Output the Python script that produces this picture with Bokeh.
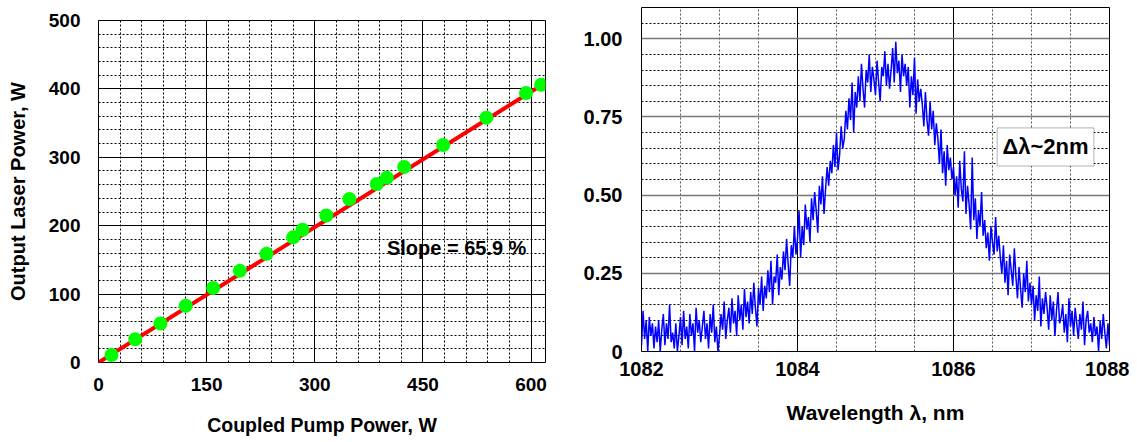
from bokeh.plotting import figure
from bokeh.layouts import row, column
from bokeh.models import Range1d, FixedTicker, Label, BoxAnnotation
from bokeh.embed import file_html
from bokeh.resources import INLINE
import numpy as np

# ---------------- data: left chart ----------------
pump_power = [18, 51, 86, 121, 159, 196, 233, 270, 283, 316, 348, 386, 400, 424, 478, 538, 593, 614]
laser_power = [11, 34, 57, 83, 109, 134, 159, 183, 194, 215, 239, 261, 270, 286, 318, 358, 394, 406]
fit_x = [0, 620]
fit_y = [0, 409]
left_xticks = [0, 150, 300, 450, 600]
left_yticks = [0, 100, 200, 300, 400, 500]
slope_text = "Slope = 65.9 %"

# ---------------- data: right chart ----------------
wl_start, wl_end = 1082.0, 1088.0
intensity = [
    0.02, 0.13, 0.04, 0.10, 0.00, 0.11, 0.05, 0.09, 0.01, 0.08,
    0.03, 0.10, 0.00, 0.07, 0.12, 0.02, 0.09, 0.04, 0.15, 0.03,
    0.06, 0.01, 0.09, 0.00, 0.05, 0.11, 0.02, 0.13, 0.04, 0.08,
    0.01, 0.12, 0.05, 0.09, 0.00, 0.14, 0.06, 0.10, 0.03, 0.08,
    0.13, 0.04, 0.09, 0.01, 0.12, 0.06, 0.15, 0.03, 0.08, 0.00,
    0.05, 0.12, 0.07, 0.16, 0.04, 0.10, 0.14, 0.06, 0.17, 0.09,
    0.13, 0.05, 0.18, 0.10, 0.15, 0.07, 0.20, 0.11, 0.16, 0.09,
    0.19, 0.12, 0.22, 0.14, 0.08, 0.20, 0.15, 0.24, 0.13, 0.21,
    0.17, 0.26, 0.19, 0.29, 0.15, 0.24, 0.22, 0.31, 0.18, 0.27,
    0.23, 0.32, 0.26, 0.36, 0.28, 0.21, 0.34, 0.30, 0.40, 0.31,
    0.36, 0.45, 0.30, 0.40, 0.34, 0.47, 0.39, 0.43, 0.35, 0.49,
    0.42, 0.51, 0.45, 0.38, 0.53, 0.47, 0.56, 0.44, 0.52, 0.59,
    0.53, 0.61, 0.57, 0.66, 0.59, 0.70, 0.58, 0.63, 0.72, 0.65,
    0.68, 0.77, 0.71, 0.81, 0.74, 0.86, 0.70, 0.83, 0.78, 0.88,
    0.80, 0.92, 0.84, 0.78, 0.90, 0.86, 0.95, 0.83, 0.91, 0.87,
    0.82, 0.93, 0.86, 0.80, 0.91, 0.88, 0.96, 0.85, 0.92, 0.84,
    0.90, 0.97, 0.86, 0.99, 0.89, 0.93, 0.83, 0.95, 0.88, 0.92,
    0.85, 0.91, 0.78, 0.88, 0.82, 0.94, 0.76, 0.87, 0.80, 0.84,
    0.79, 0.72, 0.83, 0.74, 0.69, 0.80, 0.71, 0.77, 0.66, 0.73,
    0.68, 0.60, 0.71, 0.57, 0.64, 0.53, 0.66, 0.58, 0.62, 0.55,
    0.59, 0.50, 0.56, 0.46, 0.61, 0.52, 0.48, 0.64, 0.44, 0.53,
    0.47, 0.39, 0.62, 0.42, 0.49, 0.36, 0.45, 0.40, 0.51, 0.37,
    0.42, 0.33, 0.38, 0.29, 0.40, 0.35, 0.31, 0.43, 0.32, 0.37,
    0.30, 0.25, 0.34, 0.22, 0.29, 0.18, 0.31, 0.26, 0.21, 0.33,
    0.24, 0.17, 0.27, 0.20, 0.14, 0.25, 0.19, 0.29, 0.16, 0.22,
    0.15, 0.21, 0.10, 0.18, 0.13, 0.24, 0.08, 0.17, 0.12, 0.19,
    0.14, 0.07, 0.18, 0.10, 0.16, 0.05, 0.13, 0.19, 0.09, 0.11,
    0.15, 0.06, 0.12, 0.03, 0.17, 0.08, 0.13, 0.05, 0.14, 0.09,
    0.04, 0.12, 0.07, 0.16, 0.02, 0.10, 0.13, 0.06, 0.09, 0.03,
    0.11, 0.05, 0.08, 0.00, 0.10, 0.04, 0.12, 0.06, 0.01, 0.09,
    0.02,
]
wavelength = np.linspace(wl_start, wl_end, len(intensity))
right_xticks = [1082, 1084, 1086, 1088]
right_yticks = [0, 0.25, 0.5, 0.75, 1.0]
right_ylabels = {0: "0", 0.25: "0.25", 0.5: "0.50", 0.75: "0.75", 1.0: "1.00"}
width_text = "Δλ~2nm"

FONT = "Liberation Sans"


def style_axes(p, tick_size, label_size):
    for ax in (p.xaxis[0], p.yaxis[0]):
        ax.axis_line_color = None
        ax.major_tick_line_color = None
        ax.minor_tick_line_color = None
        ax.major_label_text_font = FONT
        ax.major_label_text_font_style = "bold"
        ax.major_label_text_font_size = tick_size
        ax.major_label_text_color = "black"
        ax.axis_label_text_font = FONT
        ax.axis_label_text_font_style = "bold"
        ax.axis_label_text_font_size = label_size
        ax.axis_label_text_color = "black"
    p.outline_line_color = "black"
    p.outline_line_width = 1
    p.background_fill_color = "white"
    p.border_fill_color = "white"


# ---------------- left figure ----------------
p1 = figure(width=580, height=440, output_backend="svg", toolbar_location=None,
            x_range=Range1d(0, 620), y_range=Range1d(0, 500),
            min_border_left=98, min_border_right=35, min_border_top=20, min_border_bottom=78)
p1.xaxis.ticker = FixedTicker(ticks=left_xticks, minor_ticks=list(range(0, 621, 30)))
p1.yaxis.ticker = FixedTicker(ticks=left_yticks, minor_ticks=list(range(0, 501, 20)))
p1.xaxis.axis_label = "Coupled Pump Power, W"
p1.yaxis.axis_label = "Output Laser Power, W"
style_axes(p1, "19px", "19.5px")
p1.xaxis.major_label_standoff = 9
p1.xaxis.axis_label_standoff = 20
p1.yaxis.major_label_standoff = 12
p1.yaxis.axis_label_standoff = 17
p1.yaxis.axis_label_text_font_size = "20px"
for g in (p1.xgrid[0], p1.ygrid[0]):
    g.grid_line_color = "black"
    g.grid_line_width = 1
    g.minor_grid_line_color = "black"
    g.minor_grid_line_dash = "2 2"
    g.minor_grid_line_width = 1

p1.line(fit_x, fit_y, line_color="#FF0000", line_width=4)
p1.scatter(pump_power, laser_power, size=14, fill_color="#00FF00", line_color=None)
p1.add_layout(Label(x=400, y=167, text=slope_text, text_font=FONT, text_font_style="bold",
                    text_font_size="20px", text_baseline="middle", text_color="black"))

# ---------------- right figure ----------------
p2 = figure(width=549, height=440, output_backend="svg", toolbar_location=None,
            x_range=Range1d(wl_start, wl_end), y_range=Range1d(0, 1.1),
            min_border_left=56, min_border_right=20, min_border_top=7, min_border_bottom=89)
p2.xaxis.ticker = FixedTicker(ticks=right_xticks, minor_ticks=[1082 + 0.5 * i for i in range(13)])
p2.yaxis.ticker = FixedTicker(ticks=right_yticks, minor_ticks=[round(0.05 * i, 2) for i in range(23)])
p2.yaxis.major_label_overrides = right_ylabels
p2.xaxis.axis_label = "Wavelength λ, nm"
style_axes(p2, "20px", "21px")
p2.xaxis.major_label_standoff = 4
p2.xaxis.axis_label_standoff = 22
p2.yaxis.major_label_standoff = 13
p2.xgrid[0].grid_line_color = "black"
p2.xgrid[0].grid_line_width = 1
p2.xgrid[0].minor_grid_line_color = "#555555"
p2.xgrid[0].minor_grid_line_dash = "2 2"
p2.ygrid[0].grid_line_color = "#777777"
p2.ygrid[0].grid_line_width = 1.6
p2.ygrid[0].minor_grid_line_color = "black"
p2.ygrid[0].minor_grid_line_dash = "2 2"

p2.line(wavelength, intensity, line_color="#0000FF", line_width=1.5)
p2.add_layout(BoxAnnotation(left=1086.56, right=1087.80, bottom=0.593, top=0.715,
                            fill_color="white", fill_alpha=1.0, line_color="black", line_width=1))
p2.add_layout(Label(x=1087.18, y=0.654, text=width_text, text_font=FONT, text_font_style="bold",
                    text_font_size="22px", text_align="center", text_baseline="middle",
                    text_color="black"))

layout = row(p1, column(p2))
open("out.html", "w").write(file_html(layout, INLINE))
